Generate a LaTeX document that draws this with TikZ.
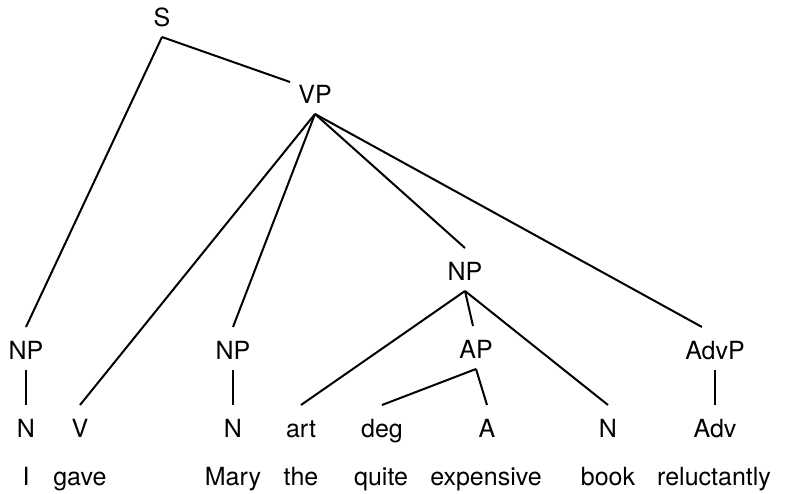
\documentclass[tikz,border=0pt]{standalone}
\usepackage{fontspec}
\setmainfont{TeX Gyre Heros}
\usepackage{tikz}

\begin{document}
\begin{tikzpicture}[
		x=1pt, y=-1pt,
		line width=2pt,
		every node/.style={inner sep=0pt, anchor=base, font=\fontsize{25}{29}\selectfont},
		cat/.style={text height=31pt, text depth=10pt},
		word/.style={}
	]
  \useasboundingbox (0,0) rectangle (787,493);
  % categories
  \node (S) [cat] at (162,26) {S};
  \node (VP) [cat] at (315,103) {VP};
  \node (NP_subj) [cat] at (26,359) {NP};
  \node (NP_io) [cat] at (233,359) {NP};
  \node (NP_do) [cat] at (465,280) {NP};
  \node (AP) [cat] at (476,358) {AP};
  \node (AdvP) [cat] at (715,359) {AdvP};
  \node (N_subj) [cat] at (26,437) {N};
  \node (V) [cat] at (80,437) {V};
  \node (N_io) [cat] at (233,437) {N};
  \node (art) [cat] at (301,437) {art};
  \node (deg) [cat] at (382,437) {deg};
  \node (A) [cat] at (487,437) {A};
  \node (N_do) [cat] at (608,437) {N};
  \node (Adv) [cat] at (715,437) {Adv};
  % words
  \node (w_I) [word] at (26,485) {I};
  \node (w_gave) [word] at (80,485) {gave};
  \node (w_Mary) [word] at (233,485) {Mary};
  \node (w_the) [word] at (301,485) {the};
  \node (w_quite) [word] at (381,485) {quite};
  \node (w_expensive) [word] at (486,485) {expensive};
  \node (w_book) [word] at (608,485) {book};
  \node (w_reluctantly) [word] at (714,485) {reluctantly};
  % branches
  \draw (S.south) -- (NP_subj.north);
  \draw (S.south) -- ([xshift=-25pt,yshift=-11pt]VP.north);
  \draw (VP.south) -- (V.north);
  \draw (VP.south) -- (NP_io.north);
  \draw (VP.south) -- (NP_do.north);
  \draw (VP.south) -- ([xshift=-13pt]AdvP.north);
  \draw (NP_subj.south) -- (N_subj.north);
  \draw (NP_io.south) -- (N_io.north);
  \draw (NP_do.south) -- (art.north);
  \draw (NP_do.south) -- ([xshift=-3pt]AP.north);
  \draw (NP_do.south) -- (N_do.north);
  \draw (AP.south) -- (deg.north);
  \draw (AP.south) -- (A.north);
  \draw (AdvP.south) -- (Adv.north);
\end{tikzpicture}
\end{document}
